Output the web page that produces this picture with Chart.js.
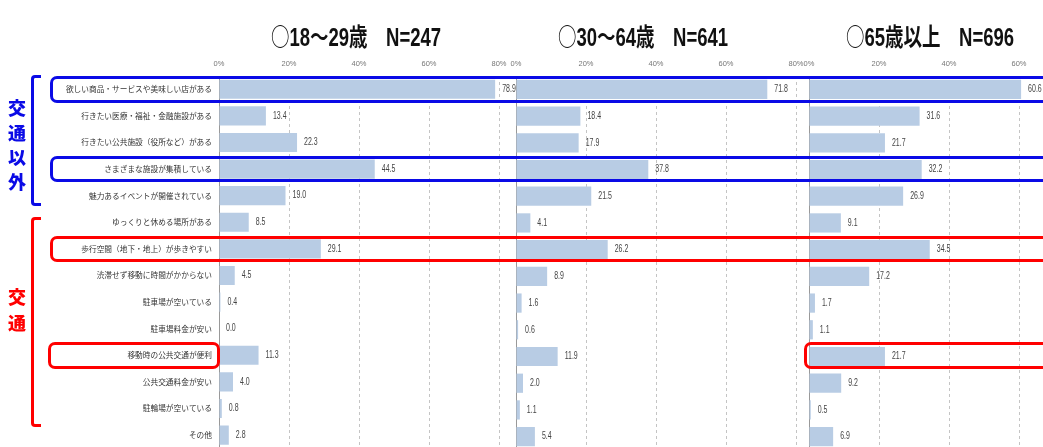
<!DOCTYPE html>
<html>
<head>
<meta charset="utf-8">
<script src="https://cdn.jsdelivr.net/npm/chart.js"></script>
<style>
html, body { margin:0; padding:0; background:#fff; overflow:hidden; }
#page { position:relative; width:1043px; height:447px; overflow:hidden; }
.box { position:absolute; top:0; height:460px; }
.ttl { position:absolute; top:17px; width:300px; height:30px; line-height:30px; text-align:center; font:bold 25px "Liberation Sans", "Noto Sans CJK JP", sans-serif; color:#111; white-space:pre; transform:scaleX(0.74); transform-origin:50% 50%; }
.ttl .cjk { font-family:"Noto Sans CJK JP", sans-serif; font-weight:normal; }
.side { position:absolute; left:5px; width:24px; text-align:center; font:900 18px "Noto Sans CJK JP", sans-serif; }
.brk { position:absolute; left:31px; width:7px; border:3px solid; border-right:none; border-radius:4px 0 0 4px; }
.mark { position:absolute; border:3px solid; border-radius:7px; box-sizing:border-box; }
</style>
</head>
<body>
<div id="page">
  <div class="box" style="left:0;width:530px"><canvas id="c1"></canvas></div>
  <div class="box" style="left:510px;width:300px"><canvas id="c2"></canvas></div>
  <div class="box" style="left:800px;width:310px"><canvas id="c3"></canvas></div>
  <div class="ttl" id="t1" style="left:206px"></div>
  <div class="ttl" id="t2" style="left:493px"></div>
  <div class="ttl" id="t3" style="left:780px"></div>
  <div class="side" style="top:95px;line-height:24.7px;color:#0a0ae6">交<br>通<br>以<br>外</div>
  <div class="side" style="top:283px;line-height:26px;color:#f00">交<br>通</div>
  <div class="brk" style="top:75px;height:125px;border-color:#0a0ae6"></div>
  <div class="brk" style="top:217px;height:204px;border-color:#f00"></div>
</div>
<script>
var categories = [
  "欲しい商品・サービスや美味しい店がある",
  "行きたい医療・福祉・金融施設がある",
  "行きたい公共施設（役所など）がある",
  "さまざまな施設が集積している",
  "魅力あるイベントが開催されている",
  "ゆっくりと休める場所がある",
  "歩行空間（地下・地上）が歩きやすい",
  "渋滞せず移動に時間がかからない",
  "駐車場が空いている",
  "駐車場料金が安い",
  "移動時の公共交通が便利",
  "公共交通料金が安い",
  "駐輪場が空いている",
  "その他"
];
var young  = [78.9, 13.4, 22.3, 44.5, 19.0, 8.5, 29.1, 4.5, 0.4, 0.0, 11.3, 4.0, 0.8, 2.8];
var middle = [71.8, 18.4, 17.9, 37.8, 21.5, 4.1, 26.2, 8.9, 1.6, 0.6, 11.9, 2.0, 1.1, 5.4];
var senior = [60.6, 31.6, 21.7, 32.2, 26.9, 9.1, 34.5, 17.2, 1.7, 1.1, 21.7, 9.2, 0.5, 6.9];
var titles = ["○18～29歳　N=247", "○30～64歳　N=641", "○65歳以上　N=696"];
var axisMax = 80;
var axisStep = 20;

var valueLabels = {
  id: "valueLabels",
  afterDatasetsDraw: function(chart) {
    var ctx = chart.ctx;
    var meta = chart.getDatasetMeta(0);
    var data = chart.data.datasets[0].data;
    ctx.save();
    ctx.font = '10px "Liberation Sans", sans-serif';
    ctx.fillStyle = "#444";
    ctx.textBaseline = "middle";
    meta.data.forEach(function(bar, i) {
      ctx.save();
      ctx.translate(bar.x + 7, bar.y);
      ctx.scale(0.7, 1);
      ctx.fillText(data[i].toFixed(1), 0, 0);
      ctx.restore();
    });
    ctx.restore();
  }
};

function makeChart(id, values, leftPad, rightPad, showLabels) {
  return new Chart(id, {
    type: "bar",
    data: {
      labels: categories,
      datasets: [{
        data: values,
        backgroundColor: "#b8cce4",
        barPercentage: 0.72,
        categoryPercentage: 1.0
      }]
    },
    options: {
      indexAxis: "y",
      responsive: true,
      maintainAspectRatio: false,
      animation: false,
      layout: { padding: { top: 56, bottom: 10, left: leftPad, right: rightPad } },
      plugins: { legend: { display: false }, tooltip: { enabled: false } },
      scales: {
        x: {
          position: "top",
          min: 0,
          max: axisMax,
          afterFit: function(s) {
            s.height = 20;
            s.paddingLeft = 0;
            s.paddingRight = 0;
          },
          ticks: {
            stepSize: axisStep,
            padding: 8,
            color: "#777",
            font: { size: 7.5, family: '"Liberation Sans", sans-serif' },
            callback: function(v) { return v + "%"; }
          },
          grid: {
            drawTicks: false,
            tickLength: 0,
            color: function(c) { return c.tick && c.tick.value === 0 ? "rgba(0,0,0,0)" : "#c4c4c4"; }
          },
          border: { display: false, dash: [3, 3] }
        },
        y: {
          display: true,
          afterFit: function(s) { s.width = showLabels ? 219 : 0; },
          ticks: {
            display: showLabels,
            autoSkip: false,
            padding: 7,
            color: "#333",
            font: { size: 7.7, family: '"Noto Sans CJK JP", sans-serif' }
          },
          grid: { display: false, drawTicks: false },
          border: { display: true, color: "#999" }
        }
      }
    },
    plugins: [valueLabels]
  });
}

var ch1 = makeChart("c1", young, 0, 31, true);
var ch2 = makeChart("c2", middle, 6, 14, false);
var ch3 = makeChart("c3", senior, 9, 21, false);

function setTitle(id, text) {
  // the circle mark is drawn with the CJK font so it keeps full width
  document.getElementById(id).innerHTML = '<span class="cjk">' + text.charAt(0) + '</span>' + text.slice(1);
}
setTitle("t1", titles[0]);
setTitle("t2", titles[1]);
setTitle("t3", titles[2]);

// highlight frames, placed on the rows of the first chart
function frame(row, left, width, color) {
  var y = ch1.scales.y;
  var band = (y.bottom - y.top) / categories.length;
  var d = document.createElement("div");
  d.className = "mark";
  d.style.left = left + "px";
  d.style.width = width + "px";
  d.style.top = (y.getPixelForValue(row) - band / 2) + "px";
  d.style.height = band + "px";
  d.style.borderColor = color;
  document.getElementById("page").appendChild(d);
}
frame(0, 50, 1010, "#0a0ae6");
frame(3, 50, 1010, "#0a0ae6");
frame(6, 50, 1010, "#f00");
frame(10, 48, 172, "#f00");
frame(10, 804, 260, "#f00");
</script>
</body>
</html>
